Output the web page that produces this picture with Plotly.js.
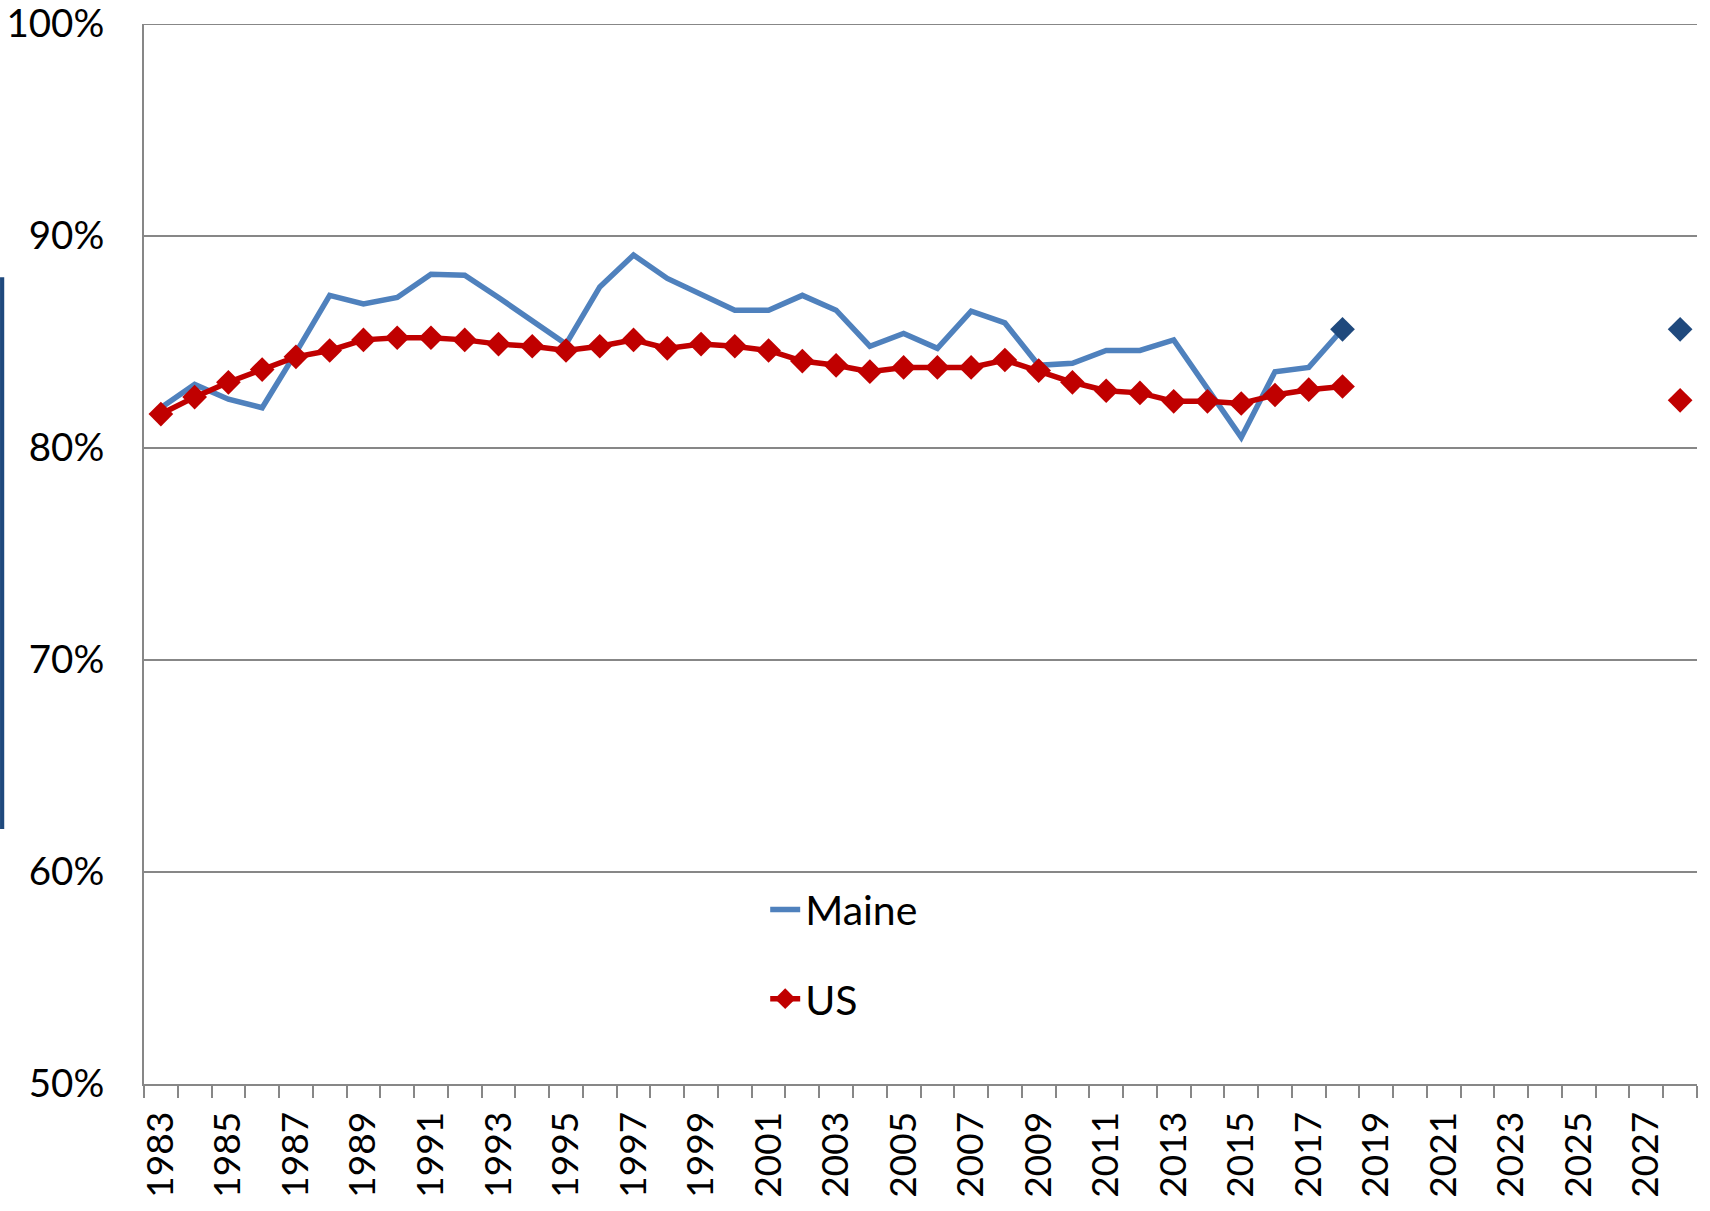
<!DOCTYPE html>
<html>
<head>
<meta charset="utf-8">
<script src="https://cdn.plot.ly/plotly-3.0.1.min.js"></script>
<style>
  html, body { margin: 0; padding: 0; background: #ffffff; }
  #chart { width: 1710px; height: 1211px; }
</style>
</head>
<body>
<div id="chart"></div>
<script>
// ---- Data ----
const years = [1983, 1984, 1985, 1986, 1987, 1988, 1989, 1990, 1991, 1992,
               1993, 1994, 1995, 1996, 1997, 1998, 1999, 2000, 2001, 2002,
               2003, 2004, 2005, 2006, 2007, 2008, 2009, 2010, 2011, 2012,
               2013, 2014, 2015, 2016, 2017, 2018];

const maine = [81.9, 83.0, 82.3, 81.9, 84.5, 87.2, 86.8, 87.1, 88.2, 88.15,
               87.1, 86.0, 84.9, 87.6, 89.1, 88.0, 87.25, 86.5, 86.5, 87.2,
               86.5, 84.8, 85.4, 84.7, 86.45, 85.9, 83.9, 84.0, 84.6, 84.6,
               85.1, 82.8, 80.5, 83.6, 83.8, 85.6];

const us = [81.6, 82.4, 83.1, 83.7, 84.3, 84.6, 85.1, 85.2, 85.2, 85.1,
            84.9, 84.8, 84.6, 84.8, 85.1, 84.7, 84.9, 84.8, 84.6, 84.1,
            83.9, 83.6, 83.8, 83.8, 83.8, 84.15, 83.65, 83.1, 82.7, 82.6,
            82.2, 82.2, 82.1, 82.5, 82.75, 82.9];

const maineGoalYears = [2018, 2028];
const maineGoal = [85.6, 85.6];
const usGoalYears = [2028];
const usGoal = [82.25];

const seriesNames = ["Maine", "US"];
const axisRange = [1982.5, 2028.5];
const yRange = [50, 100];

// ---- Style ----
const FONT = "Lato, 'Open Sans', sans-serif";
const GRID = "#878787";
const BLUE = "#4F81BD";
const DARKBLUE = "#1F497D";
const RED = "#C00000";

const traces = [
  {
    x: years, y: maine, name: seriesNames[0], type: "scatter", mode: "lines",
    line: { color: BLUE, width: 5.5 },
    legendgroup: "a", hoverinfo: "x+y"
  },
  {
    x: maineGoalYears, y: maineGoal, type: "scatter", mode: "markers",
    marker: { symbol: "diamond", size: 19, color: DARKBLUE },
    showlegend: false, hoverinfo: "x+y"
  },
  {
    x: years, y: us, name: seriesNames[1], type: "scatter", mode: "lines+markers",
    line: { color: RED, width: 5.5 },
    marker: { symbol: "diamond", size: 19, color: RED },
    legendgroup: "b", hoverinfo: "x+y"
  },
  {
    x: usGoalYears, y: usGoal, type: "scatter", mode: "markers",
    marker: { symbol: "diamond", size: 19, color: RED },
    showlegend: false, hoverinfo: "x+y"
  }
];

const layout = {
  width: 1710, height: 1211,
  margin: { l: 144, r: 13, t: 24, b: 127, pad: 0 },
  paper_bgcolor: "#ffffff",
  plot_bgcolor: "#ffffff",
  font: { family: FONT, size: 38, color: "#000000" },
  showlegend: true,
  legend: {
    x: 0.4, y: 0.196, xanchor: "left", yanchor: "top",
    bgcolor: "rgba(0,0,0,0)",
    font: { family: FONT, size: 41, color: "#000000" },
    itemwidth: 30,
    traceorder: "grouped", tracegroupgap: 33
  },
  xaxis: {
    type: "linear",
    range: axisRange,
    tickmode: "linear", tick0: 1983, dtick: 2,
    tickformat: "d",
    tickangle: -90,
    ticks: "",
    ticklabelstandoff: 11,
    ticklabeloverflow: "allow",
    showgrid: false, zeroline: false,
    showline: true, linecolor: GRID, linewidth: 2,
    tickfont: { family: FONT, size: 37, color: "#000000" },
    minor: { ticks: "outside", tick0: 1982.5, dtick: 1, ticklen: 12, tickwidth: 2, tickcolor: GRID, showgrid: false },
    fixedrange: true
  },
  yaxis: {
    range: yRange,
    tickmode: "linear", tick0: 50, dtick: 10,
    ticksuffix: "%",
    ticks: "",
    ticklabelstandoff: 30,
    ticklabeloverflow: "allow",
    showgrid: true, gridcolor: GRID, gridwidth: 2,
    zeroline: false,
    showline: true, linecolor: GRID, linewidth: 2,
    tickfont: { family: FONT, size: 38.5, color: "#000000" },
    fixedrange: true
  },
  shapes: [
    {
      // top gridline at 100%
      type: "line", xref: "paper", yref: "y",
      x0: 0, x1: 1, y0: yRange[1], y1: yRange[1],
      line: { color: GRID, width: 2 }, layer: "below"
    },
    {
      type: "rect", xref: "paper", yref: "paper",
      x0: -0.0927, x1: -0.0900, y0: 0.2406, y1: 0.761,
      fillcolor: DARKBLUE, line: { width: 0 }, layer: "above"
    }
  ]
};

Plotly.newPlot("chart", traces, layout, { displayModeBar: false, staticPlot: true });
</script>
</body>
</html>
